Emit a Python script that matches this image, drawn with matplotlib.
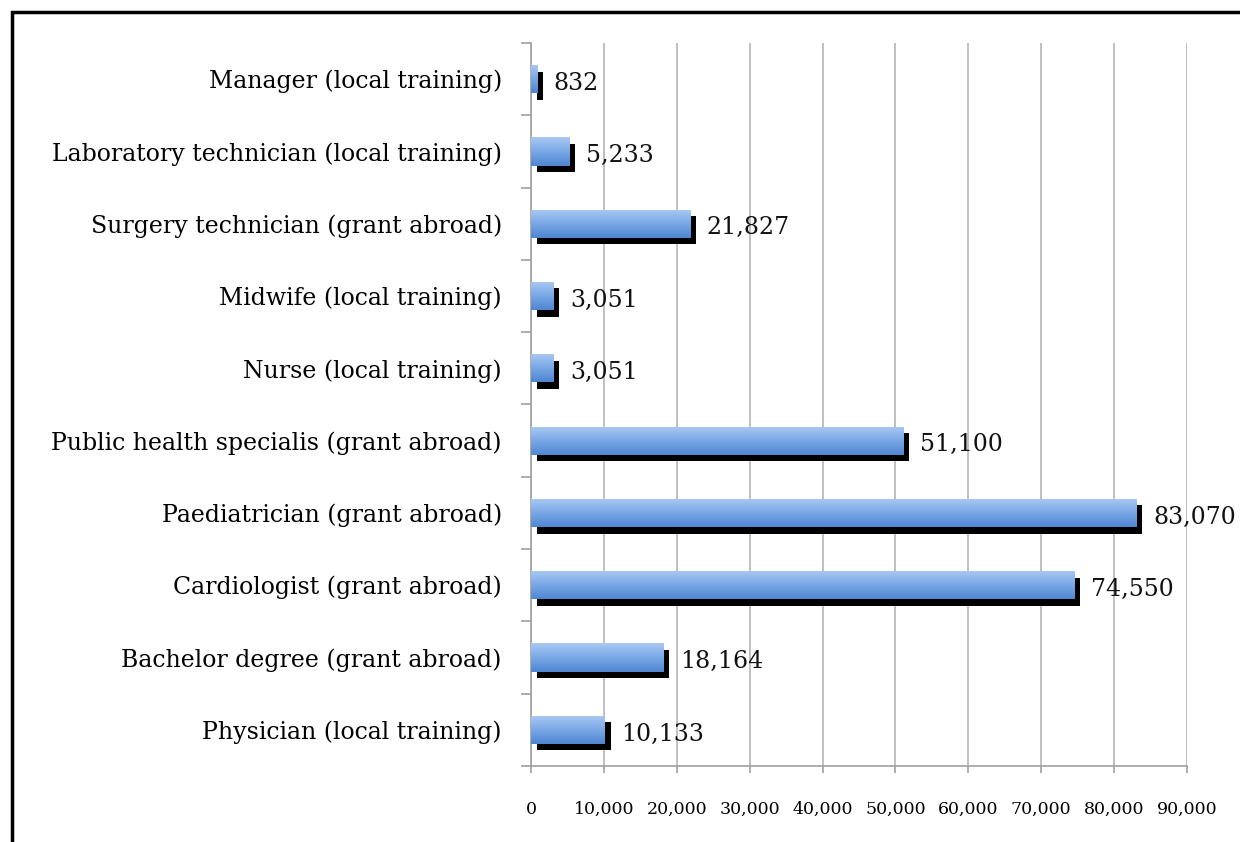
import numpy as np
import matplotlib.pyplot as plt
from matplotlib.patches import Rectangle
from matplotlib.colors import LinearSegmentedColormap
from matplotlib.ticker import FuncFormatter, MultipleLocator

# bottom-to-top order, as in the chart
categorias = [
    "Physician (local training)",
    "Bachelor degree (grant abroad)",
    "Cardiologist (grant abroad)",
    "Paediatrician (grant abroad)",
    "Public health specialis (grant abroad)",
    "Nurse (local training)",
    "Midwife (local training)",
    "Surgery technician (grant abroad)",
    "Laboratory technician (local training)",
    "Manager (local training)",
]
costes = [10133, 18164, 74550, 83070, 51100, 3051, 3051, 21827, 5233, 832]
etiquetas = ["10,133", "18,164", "74,550", "83,070", "51,100",
             "3,051", "3,051", "21,827", "5,233", "832"]

plt.rcParams["font.family"] = ["DejaVu Serif"]

fig = plt.figure(figsize=(12.4, 8.42), dpi=100)
ax = fig.add_axes([0.4282, 0.0903, 0.5291, 0.8586])

y = np.arange(len(categorias))
alto = 0.39
dx = 800      # shadow offset in data units (~6 px)
dy = 0.09

# black shadow
ax.barh(y - dy, costes, height=alto, left=dx, color="black", zorder=2)
# blue bars with vertical gradient
barras = ax.barh(y, costes, height=alto, color="none", zorder=3)
grad = np.linspace(0, 1, 100).reshape(-1, 1)
cmap = LinearSegmentedColormap.from_list("azul", ["#4f86d2", "#7aa8e6", "#aac9f3"])
for b in barras:
    x0, y0 = b.get_x(), b.get_y()
    w, h = b.get_width(), b.get_height()
    im = ax.imshow(grad, cmap=cmap, aspect="auto", origin="lower",
                   extent=[x0, x0 + w, y0, y0 + h], zorder=3.5)
    im.set_clip_path(b)

for yi, v, t in zip(y, costes, etiquetas):
    ax.annotate(t, (v, yi), xytext=(12, -3), textcoords="offset points",
                va="center", ha="left", fontsize=17, color="#111111")

ax.set_xlim(0, 90000)
ax.set_ylim(-0.5, len(categorias) - 0.5)
ax.xaxis.set_major_locator(MultipleLocator(10000))
ax.xaxis.set_major_formatter(FuncFormatter(lambda v, p: f"{int(v):,}"))
ax.grid(axis="x", color="#b5b5b5", linewidth=1.2, zorder=0)
ax.set_axisbelow(True)

ax.set_yticks(y)
ax.set_yticklabels(categorias, fontsize=17)
ax.set_yticks(np.arange(-0.5, len(categorias)), minor=True)
ax.tick_params(axis="y", which="major", length=0, pad=21)
ax.tick_params(axis="y", which="minor", length=7, width=1.2, color="#a0a0a0")
ax.tick_params(axis="x", length=5, width=1.2, color="#a0a0a0", labelsize=12.5, pad=20)

for s in ["top", "right"]:
    ax.spines[s].set_visible(False)
for s in ["left", "bottom"]:
    ax.spines[s].set_color("#a0a0a0")
    ax.spines[s].set_linewidth(1.2)

# black frame around the figure (open at right and bottom)
fig.patches.append(Rectangle((0.0097, -0.1), 1.2, 1.0857, transform=fig.transFigure,
                             fill=False, edgecolor="black", linewidth=2.5))

fig.savefig("out.png", dpi=100)
